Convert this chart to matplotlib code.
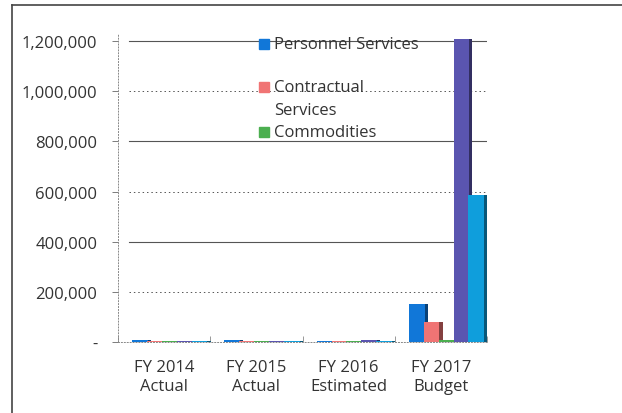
import matplotlib
matplotlib.use("Agg")
import matplotlib.pyplot as plt
from matplotlib.lines import Line2D
from matplotlib.colors import to_rgb
import numpy as np

categories = ["FY 2014\nActual", "FY 2015\nActual", "FY 2016\nEstimated", "FY 2017\nBudget"]
series_names = ["Personnel Services", "Contractual Services", "Commodities", "Capital", "Total"]
personnel = [6000, 6000, 5000, 150000]
contractual = [3000, 4000, 4000, 80000]
commodities = [2000, 2000, 2000, 6000]
capital = [4000, 4000, 6000, 1210000]
total = [5000, 5000, 5000, 585000]
colors = ["#1177d8", "#f07474", "#4caf50", "#5a55b0", "#0f9edc"]
y_ticks = [0, 200000, 400000, 600000, 800000, 1000000, 1200000]

plt.rcParams["font.family"] = ["Open Sans", "DejaVu Sans"]

fig = plt.figure(figsize=(6.22, 4.14), dpi=100)
ax = fig.add_axes([0.19, 0.1715, 0.593, 0.745])

values = [personnel, contractual, commodities, capital, total]
n = len(values)
width = 0.17
x = np.arange(len(categories))
depth = 0.035


def darker(c, f=0.55):
    r, g, b = to_rgb(c)
    return (r * f, g * f, b * f)


for i, (vals, col) in enumerate(zip(values, colors)):
    pos = x + (i - (n - 1) / 2) * width * 0.95 + 0.06
    # darker side face gives the bars some depth
    ax.bar(pos + depth, vals, width=width, color=darker(col), zorder=3 + i,
           clip_on=False)
    ax.bar(pos, vals, width=width, color=col, zorder=3.5 + i, clip_on=False)

ax.set_xlim(-0.5, 3.5)
ax.set_ylim(0, 1230000)

# back-wall gridlines, alternating dotted and solid
for k, t in enumerate(y_ticks[1:]):
    ax.axhline(t, xmin=0.03, xmax=1.0, color="#555555",
               lw=0.8 if k % 2 else 0.7,
               ls="-" if k % 2 else (0, (1.5, 3)), zorder=1)

ax.set_yticks(y_ticks)
ax.set_yticklabels([f"{v:,}" if v else "-" for v in y_ticks], fontsize=12,
                   color="#333333")
ax.set_xticks(x)
ax.set_xticklabels(categories, fontsize=12, color="#333333", linespacing=1.3)
ax.tick_params(axis="x", length=0, pad=12)
ax.tick_params(axis="y", length=4, width=0.6, color="#666666", pad=11)
ax.set_xticks(np.arange(-0.5, 4, 1), minor=True)
ax.tick_params(axis="x", which="minor", length=4, width=0.6, color="#888888",
               direction="in")

for s in ["top", "right"]:
    ax.spines[s].set_visible(False)
for s in ["left", "bottom"]:
    ax.spines[s].set_linestyle((0, (1, 2)))
    ax.spines[s].set_color("#888888")
    ax.spines[s].set_linewidth(0.7)

# legend for the first three series; the middle label wraps onto two lines
legend_rows = [(45, 0, ["Personnel Services"]),
               (88, 1, ["Contractual", "Services"]),
               (133, 2, ["Commodities"])]
for ypix, idx, lines in legend_rows:
    yf = 1 - ypix / 414
    fig.add_artist(Line2D([264 / 622], [yf], marker="s", markersize=7,
                          color=colors[idx], linestyle="none"))
    for j, line in enumerate(lines):
        fig.text(274 / 622, yf - j * 23 / 414, line, fontsize=12,
                 color="#333333", va="center", ha="left")

# chart frame
fig.add_artist(Line2D([12 / 622, 1.0], [1 - 6 / 414] * 2, color="#444444", lw=1.2))
fig.add_artist(Line2D([12 / 622] * 2, [0, 1 - 6 / 414], color="#444444", lw=1.2))

fig.savefig("out.png", dpi=100)
